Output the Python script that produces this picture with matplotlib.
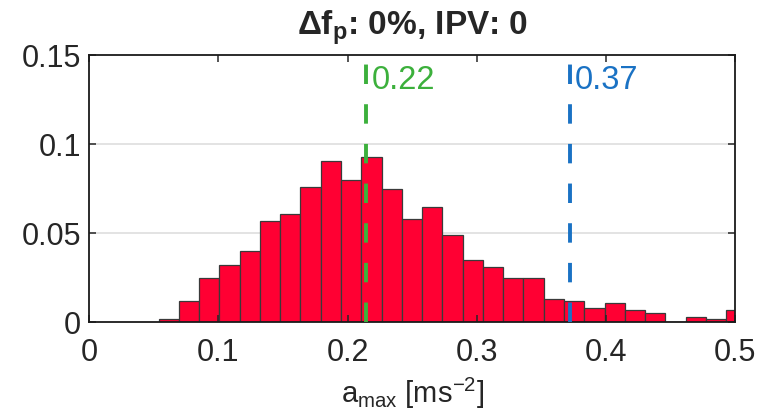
import matplotlib
matplotlib.use("Agg")
import matplotlib.pyplot as plt
from matplotlib.ticker import FormatStrFormatter

plt.rcParams['font.family'] = ['Liberation Sans', 'DejaVu Sans']
plt.rcParams['mathtext.fontset'] = 'custom'
plt.rcParams['mathtext.rm'] = 'Liberation Sans'
plt.rcParams['mathtext.it'] = 'Liberation Sans'
plt.rcParams['mathtext.bf'] = 'Liberation Sans:bold'

# histogram of a_max (normalised counts)
bin_edges = [0.0536, 0.0693, 0.0850, 0.1007, 0.1164, 0.1321, 0.1478, 0.1635,
             0.1792, 0.1949, 0.2106, 0.2263, 0.2420, 0.2577, 0.2734, 0.2891,
             0.3048, 0.3205, 0.3362, 0.3519, 0.3676, 0.3833, 0.3990, 0.4147,
             0.4304, 0.4461, 0.4618, 0.4775, 0.4932, 0.5089]
probabilities = [0.0013, 0.0115, 0.0246, 0.0315, 0.0395, 0.0567, 0.0605, 0.0754,
                 0.0903, 0.0795, 0.0926, 0.0745, 0.0574, 0.0646, 0.0485, 0.0345,
                 0.0306, 0.0244, 0.0244, 0.0125, 0.0115, 0.0076, 0.0104, 0.0063,
                 0.0046, 0.0, 0.0026, 0.0015, 0.0065]

# marker lines (position, label, colour)
marker_x = [0.2145, 0.3722]
marker_labels = ["0.22", "0.37"]
marker_colors = ["#3cb03c", "#1a72c4"]

xticks = [0, 0.1, 0.2, 0.3, 0.4, 0.5]
yticks = [0, 0.05, 0.1, 0.15]

fig = plt.figure(figsize=(7.61, 4.14), dpi=100)
ax = fig.add_axes([0.1174, 0.221, 0.8484, 0.6445])

for y in yticks[1:-1]:
    ax.axhline(y, color="#e3e3e3", lw=1.4, zorder=0.5)

widths = [b - a for a, b in zip(bin_edges[:-1], bin_edges[1:])]
ax.bar(bin_edges[:-1], probabilities, width=widths, align="edge",
       color="#ff0033", edgecolor="#3a3a3a", linewidth=0.9, zorder=1)

for x, lab, c in zip(marker_x, marker_labels, marker_colors):
    ax.axvline(x, ymin=0, ymax=1, color=c, lw=2.8, dashes=(5, 5.2), zorder=3)
    ax.text(x + 0.004, 0.1358, lab, color=c, fontsize=23.5, ha="left", va="center")

ax.set_xlim(0, 0.5)
ax.set_ylim(0, 0.15)
ax.set_xticks(xticks)
ax.set_yticks(yticks)
ax.xaxis.set_major_formatter(FormatStrFormatter('%g'))
ax.yaxis.set_major_formatter(FormatStrFormatter('%g'))
ax.tick_params(direction="in", length=5, width=1.1, top=True, right=True,
               labelsize=22, colors="#262626", pad=6)
ax.tick_params(axis="x", pad=11)
for s in ax.spines.values():
    s.set_linewidth(1.3)
    s.set_color("#1a1a1a")

ax.set_title(r"$\mathbf{\Delta f_p}$: 0%, IPV: 0", fontsize=24, fontweight="bold",
             color="#262626", pad=15)
ax.set_xlabel(r"$\mathrm{a_{max}}$ [ms$^{\mathrm{-2}}$]", fontsize=21, color="#262626", labelpad=6)

fig.savefig("out.png", dpi=100)
